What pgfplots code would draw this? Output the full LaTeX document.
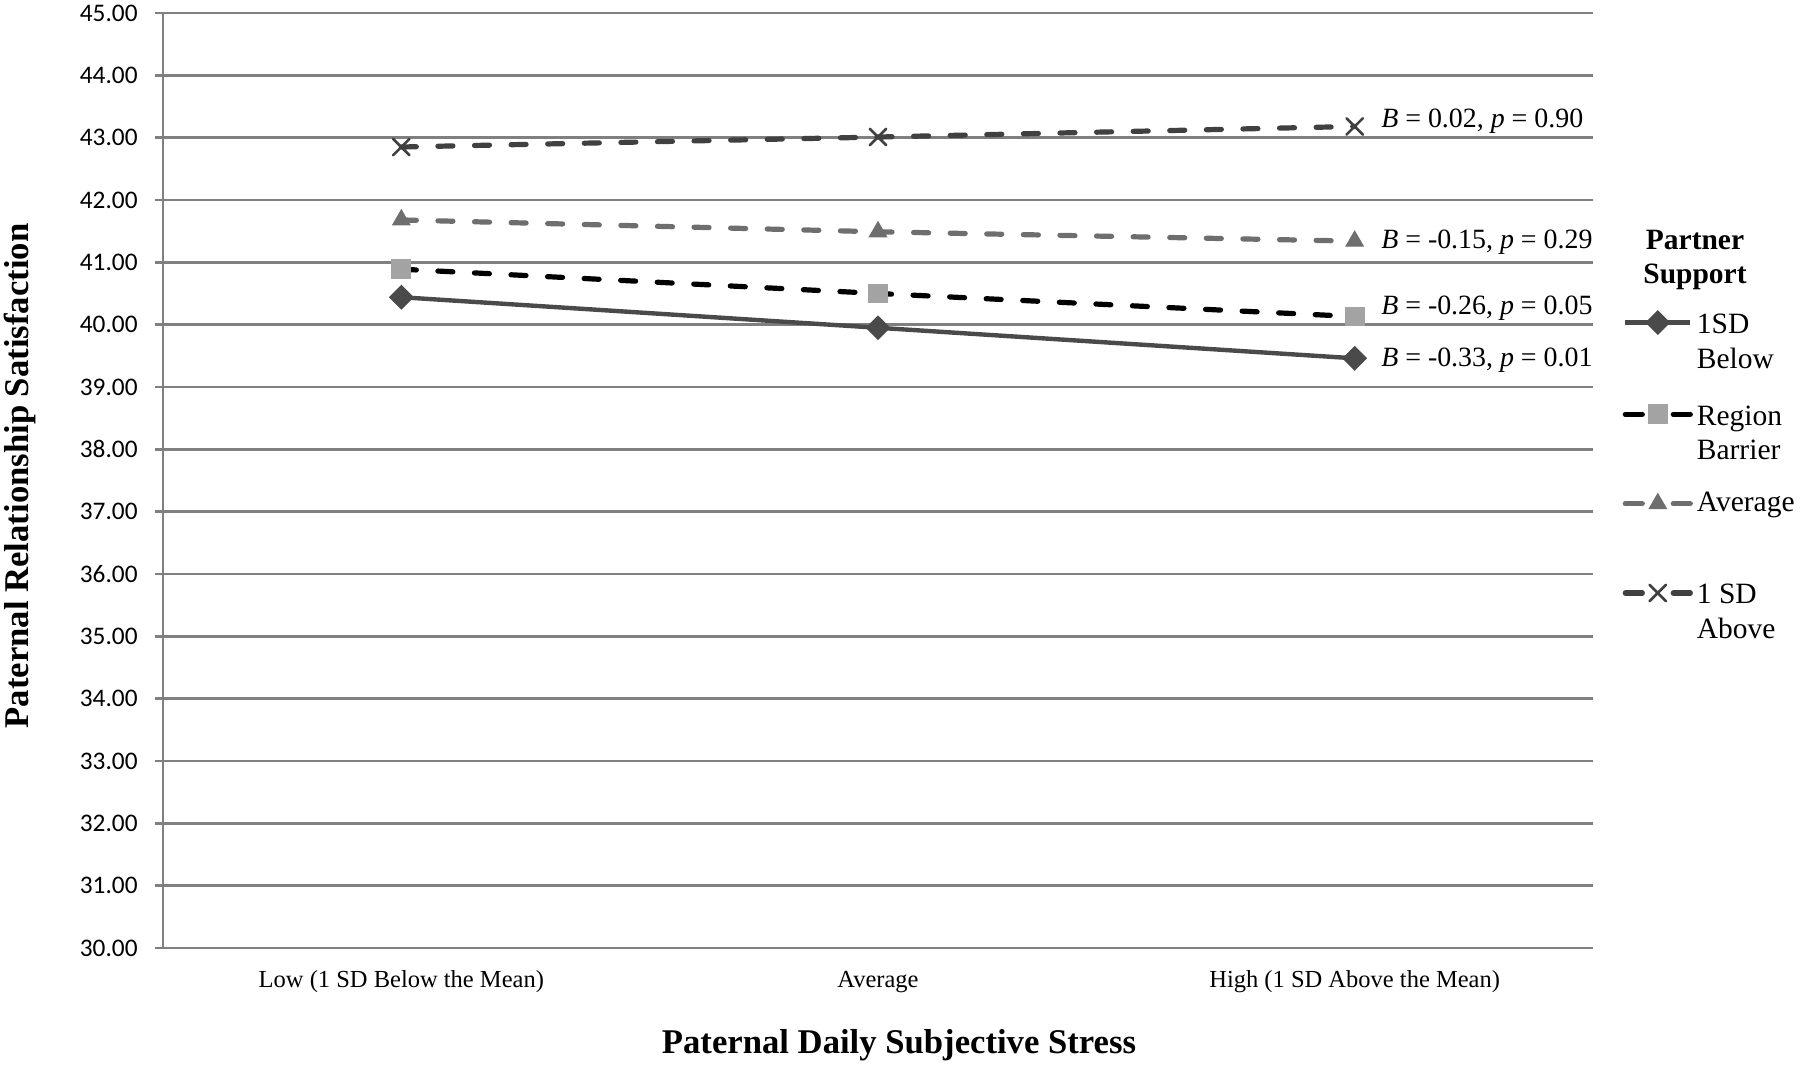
\documentclass[border=0pt]{standalone}
\usepackage{pgfplots}
\pgfplotsset{compat=1.18}
\usepackage{fontspec}
\setmainfont{Liberation Serif}
\newfontfamily\carlito{Carlito}
\definecolor{gridgray}{HTML}{808080}
\definecolor{sbelow}{HTML}{4A4A4A}
\definecolor{sbarrier}{HTML}{000000}
\definecolor{sbarriermark}{HTML}{A3A3A3}
\definecolor{savg}{HTML}{6E6E6E}
\definecolor{sabove}{HTML}{404040}
\begin{document}
\begin{tikzpicture}
\useasboundingbox (-81.5bp,-59bp) rectangle (818.5bp,474bp);
\begin{axis}[
  scale only axis, width=715bp, height=467.5bp,
  xmin=-0.5, xmax=2.5, ymin=30, ymax=45,
  xtick={0,1,2},
  xticklabels={Low (1 SD Below the Mean), Average, High (1 SD Above the Mean)},
  ytick={30,31,...,45},
  yticklabel={\pgfmathprintnumber[fixed,fixed zerofill,precision=2,assume math mode=true]{\tick}},
  yticklabel style={font=\carlito\fontsize{12.7}{15}\selectfont, inner sep=0pt, anchor=east, xshift=-8.5bp},
  xticklabel style={font=\fontsize{12.3}{15}\selectfont, inner sep=0pt, anchor=base, yshift=-15.6bp},
  axis x line*=bottom, axis y line*=left,
  axis line style={gridgray, line width=1.3bp, -},
  ymajorgrids, grid style={gridgray, line width=1.3bp},
  tick align=outside, major tick length=4bp,
  xtick style={draw=none},
  ytick style={gridgray, line width=1.3bp},
  xlabel={Paternal Daily Subjective Stress},
  ylabel={Paternal Relationship Satisfaction},
  every axis x label/.style={at={(axis description cs:0.5147,0)}, anchor=center, yshift=-48.7bp, font=\bfseries\fontsize{17.4}{20}\selectfont},
  every axis y label/.style={at={(axis description cs:-0.0997,0.5048)}, rotate=90, anchor=center, font=\bfseries\fontsize{17.4}{20}\selectfont},
  clip=false,
  legend style={at={(axis description cs:1.0205,0.684)}, anchor=north west, draw=none, fill=none, inner sep=0pt, row sep=32.2bp, column sep=2bp,
    nodes={inner sep=0pt, font=\fontsize{14.8}{17.5}\selectfont}},
  legend cell align=left,
  legend image code/.code={\draw[mark repeat=2,mark phase=2] plot coordinates {(0bp,0bp)(16.25bp,0bp)(32.5bp,0bp)};},
]
\addplot[sbelow, line width=2.2bp, mark=square*, mark size=3.3bp, mark options={rotate=45, fill=sbelow, draw=sbelow, solid}]
  coordinates {(0,40.44) (1,39.95) (2,39.46)};
\addlegendentry{\begin{tabular}[t]{@{}l@{}}1SD\\Below\end{tabular}}
\addplot[sbarrier, line width=2.6bp, line cap=round, dash pattern=on 7.5bp off 10.8bp, mark=square*, mark size=4.7bp, mark options={fill=sbarriermark, draw=sbarriermark, solid, line width=0.5bp},
  legend image post style={dash pattern=on 8.5bp off 15.5bp}]
  coordinates {(0,40.89) (1,40.50) (2,40.13)};
\addlegendentry{\begin{tabular}[t]{@{}l@{}}Region\\Barrier\end{tabular}}
\addplot[savg, line width=2.6bp, line cap=round, dash pattern=on 7.5bp off 10.8bp, mark=triangle*, mark size=5bp, mark options={fill=savg, draw=savg, solid, line width=0.5bp},
  legend image post style={dash pattern=on 8.5bp off 15.5bp}]
  coordinates {(0,41.68) (1,41.49) (2,41.34)};
\addlegendentry{Average}
\addplot[sabove, line width=2.6bp, line cap=round, dash pattern=on 7.5bp off 10.8bp, mark=x, mark size=5.8bp, mark options={draw=sabove, solid, line width=1.3bp},
  legend image post style={dash pattern=on 8.5bp off 15.5bp}]
  coordinates {(0,42.85) (1,43.01) (2,43.18)};
\addlegendentry{\begin{tabular}[t]{@{}l@{}}1 SD\\Above\end{tabular}}
\begin{scope}[every node/.style={anchor=west, inner sep=0pt, font=\fontsize{14}{17}\selectfont}]
\node at (axis cs:2.055,43.27) {\textit{B} = 0.02, \textit{p} = 0.90};
\node at (axis cs:2.055,41.33) {\textit{B} = -0.15, \textit{p} = 0.29};
\node at (axis cs:2.055,40.27) {\textit{B} = -0.26, \textit{p} = 0.05};
\node at (axis cs:2.055,39.43) {\textit{B} = -0.33, \textit{p} = 0.01};
\end{scope}
\end{axis}
\node[align=center, inner sep=0pt, font=\bfseries\fontsize{14.8}{17.5}\selectfont] at (766bp,344bp) {Partner\\Support};
\end{tikzpicture}
\end{document}
